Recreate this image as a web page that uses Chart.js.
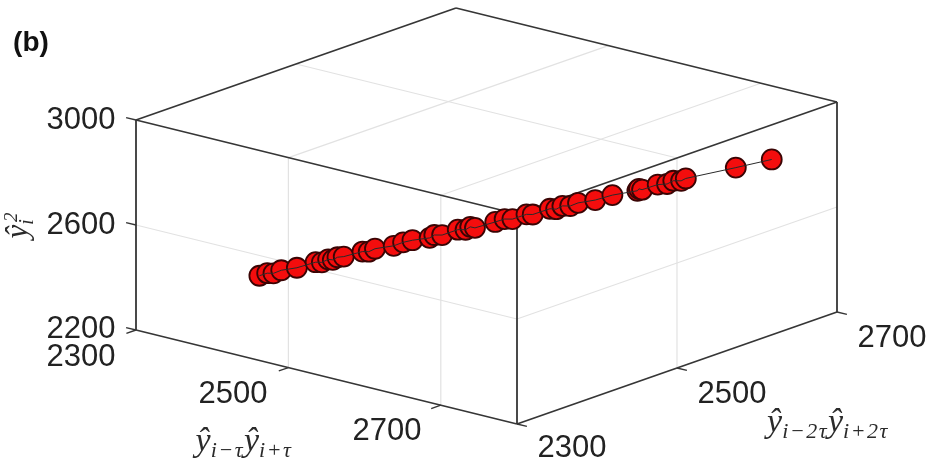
<!DOCTYPE html>
<html>
<head>
<meta charset="utf-8">
<title>(b)</title>
<style>
  html, body { margin: 0; padding: 0; background: #fff; }
  #chart { display: block; }
</style>
<script src="https://cdn.jsdelivr.net/npm/chart.js@4/dist/chart.umd.min.js"></script>
</head>
<body>
<canvas id="chart" width="929" height="465"></canvas>
<script>
// values, each point is (x, y, z)
const xValues = [2379, 2384, 2388, 2393, 2403, 2415, 2419, 2423, 2426, 2429, 2433, 2445, 2449, 2453, 2465, 2471, 2477, 2488, 2491, 2496, 2506, 2511, 2514, 2517, 2530, 2536, 2541, 2550, 2554, 2565, 2569, 2573, 2578, 2583, 2594, 2605, 2621, 2622, 2624, 2634, 2640, 2644, 2649, 2652, 2684, 2707];
const yValues = [2379, 2384, 2388, 2393, 2403, 2415, 2419, 2423, 2426, 2429, 2433, 2445, 2449, 2453, 2465, 2471, 2477, 2488, 2491, 2496, 2506, 2511, 2514, 2517, 2530, 2536, 2541, 2550, 2554, 2565, 2569, 2573, 2578, 2583, 2594, 2605, 2621, 2622, 2624, 2634, 2640, 2644, 2649, 2652, 2684, 2707];
const zValues = [2379, 2387, 2385, 2395, 2401, 2418, 2416, 2426, 2423, 2432, 2433, 2448, 2446, 2456, 2463, 2474, 2480, 2485, 2495, 2493, 2510, 2508, 2518, 2513, 2531, 2540, 2538, 2553, 2551, 2569, 2566, 2577, 2575, 2585, 2592, 2607, 2618, 2625, 2621, 2637, 2637, 2648, 2646, 2654, 2684, 2707];

const xTicks = [2300, 2500, 2700];
const yTicks = [2300, 2500, 2700];
const zTicks = [2200, 2600, 3000];
const xMin = 2300, xMax = 2800;
const yMin = 2300, yMax = 2700;
const zMin = 2200, zMax = 3000;

const RED = '#f40d0d';
const EDGE = '#363636';
const GRID = '#e2e2e2';

// orthographic view of the 3d box, returns a point on the flat chart scales
function project(x, y, z) {
    return {
        x: 136 + 0.762 * (x - xMin) + 0.8 * (y - yMin),
        y: 330 + 0.188 * (x - xMin) - 0.28 * (y - yMin) - 0.2625 * (z - zMin)
    };
}

function segment(a, b, color, width, order) {
    return {
        type: 'line',
        data: [project(a[0], a[1], a[2]), project(b[0], b[1], b[2])],
        borderColor: color,
        borderWidth: width,
        pointRadius: 0,
        fill: false,
        order: order
    };
}

const datasets = [];

// grid lines
xTicks.slice(1).forEach(v => {
    datasets.push(segment([v, yMin, zMin], [v, yMin, zMax], GRID, 1.2, 4));
    datasets.push(segment([v, yMin, zMax], [v, yMax, zMax], GRID, 1.2, 4));
});
datasets.push(segment([xMax, 2500, zMin], [xMax, 2500, zMax], GRID, 1.2, 4));
datasets.push(segment([xMin, 2500, zMax], [xMax, 2500, zMax], GRID, 1.2, 4));
datasets.push(segment([xMin, yMin, 2600], [xMax, yMin, 2600], GRID, 1.2, 4));
datasets.push(segment([xMax, yMin, 2600], [xMax, yMax, 2600], GRID, 1.2, 4));

// box edges
const boxEdges = [
    [[xMin, yMin, zMin], [xMax, yMin, zMin]],
    [[xMax, yMin, zMin], [xMax, yMax, zMin]],
    [[xMin, yMin, zMin], [xMin, yMin, zMax]],
    [[xMax, yMin, zMin], [xMax, yMin, zMax]],
    [[xMax, yMax, zMin], [xMax, yMax, zMax]],
    [[xMin, yMin, zMax], [xMax, yMin, zMax]],
    [[xMax, yMin, zMax], [xMax, yMax, zMax]],
    [[xMin, yMin, zMax], [xMin, yMax, zMax]],
    [[xMin, yMax, zMax], [xMax, yMax, zMax]]
];
boxEdges.forEach(e => datasets.push(segment(e[0], e[1], EDGE, 1.8, 3)));

// tick marks
xTicks.forEach(v => datasets.push(segment([v, yMin, zMin], [v, yMin - 12, zMin], EDGE, 1.4, 3)));
yTicks.forEach(v => datasets.push(segment([xMax, v, zMin], [xMax + 13, v, zMin], EDGE, 1.4, 3)));
zTicks.forEach(v => datasets.push(segment([xMin, yMin, v], [xMin - 13, yMin, v], EDGE, 1.4, 3)));

const points = xValues.map((v, i) => project(v, yValues[i], zValues[i]));

datasets.push({
    type: 'scatter',
    data: points,
    pointRadius: 10,
    pointBackgroundColor: RED,
    pointBorderColor: '#3a0404',
    pointBorderWidth: 1.8,
    showLine: false,
    order: 2
});
datasets.push({
    type: 'line',
    data: points,
    borderColor: '#2a2a2a',
    borderWidth: 1,
    pointRadius: 0,
    fill: false,
    order: 1
});

// [text, center x, center y]
const tickLabels = [
    ['3000', 81, 120], ['2600', 81, 225], ['2200', 81, 329],
    ['2300', 81, 357], ['2500', 233, 394], ['2700', 387, 431],
    ['2300', 572, 448], ['2500', 732, 394], ['2700', 892, 338]
];

// draw hat-y products with smaller subscripts, centered on cx, cy
function mathLabel(ctx, runs, cx, cy, angle, bigSize, subSize) {
    const fontOf = r => 'italic ' + (r.sub ? subSize : bigSize) + 'px "Liberation Serif"';
    const spacing = r => r.sub ? '1.5px' : '0px';
    let total = 0;
    runs.forEach(r => {
        ctx.font = fontOf(r);
        ctx.letterSpacing = spacing(r);
        total += ctx.measureText(r.t).width;
    });
    ctx.save();
    ctx.translate(cx, cy);
    ctx.rotate(angle);
    ctx.fillStyle = '#2b2b2b';
    ctx.textAlign = 'left';
    ctx.textBaseline = 'alphabetic';
    let pos = -total / 2;
    runs.forEach(r => {
        ctx.font = fontOf(r);
        ctx.letterSpacing = spacing(r);
        ctx.fillText(r.t, pos, r.sub ? 9 : 3);
        pos += ctx.measureText(r.t).width;
    });
    ctx.letterSpacing = '0px';
    ctx.restore();
}

const textPlugin = {
    id: 'textPlugin',
    afterDraw(chart) {
        const ctx = chart.ctx;
        ctx.save();
        ctx.fillStyle = '#222';
        ctx.textAlign = 'center';
        ctx.textBaseline = 'middle';
        ctx.font = '31px "Liberation Sans"';
        tickLabels.forEach(l => ctx.fillText(l[0], l[1], l[2]));
        ctx.font = 'bold 28px "Liberation Sans"';
        ctx.fillStyle = '#111';
        ctx.fillText('(b)', 31, 43);
        ctx.restore();

        mathLabel(ctx, [
            { t: 'ŷ' }, { t: 'i−τ', sub: true }, { t: 'ŷ' }, { t: 'i+τ', sub: true }
        ], 244, 448, 0, 34, 22);
        mathLabel(ctx, [
            { t: 'ŷ' }, { t: 'i−2τ', sub: true }, { t: 'ŷ' }, { t: 'i+2τ', sub: true }
        ], 828, 429, 0, 34, 22);
        mathLabel(ctx, [
            { t: 'ŷ' }, { t: 'i', sub: true }
        ], 24, 228, -Math.PI / 2, 31, 20);
        ctx.save();
        ctx.translate(24, 228);
        ctx.rotate(-Math.PI / 2);
        ctx.font = 'italic 19px "Liberation Serif"';
        ctx.fillStyle = '#2b2b2b';
        ctx.fillText('2', 6, -7);
        ctx.restore();
    }
};

new Chart(document.getElementById('chart').getContext('2d'), {
    type: 'scatter',
    data: { datasets: datasets },
    options: {
        responsive: false,
        animation: false,
        layout: { padding: 0, autoPadding: false },
        plugins: { legend: { display: false }, tooltip: { enabled: false } },
        scales: {
            x: { type: 'linear', min: 0, max: 929, display: false },
            y: { type: 'linear', min: 0, max: 465, reverse: true, display: false }
        }
    },
    plugins: [textPlugin]
});
</script>
</body>
</html>
